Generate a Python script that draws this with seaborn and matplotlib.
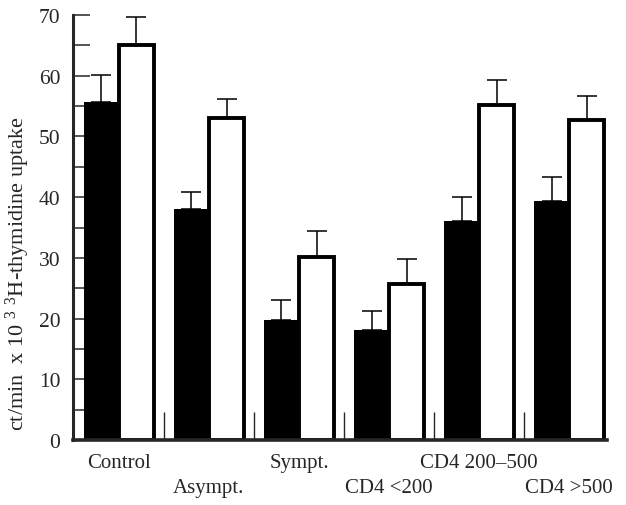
import matplotlib
matplotlib.use("Agg")
import matplotlib.pyplot as plt
import seaborn as sns
import pandas as pd
import numpy as np

groups = ["Control", "Asympt.", "Sympt.", "CD4 <200", "CD4 200\u2013500", "CD4 >500"]
black_vals = [55.7, 38.0, 19.8, 18.2, 36.1, 39.4]
black_errs = [4.4, 2.8, 3.2, 3.1, 4.0, 3.9]
white_vals = [65.1, 53.0, 30.2, 25.7, 55.2, 52.7]
white_errs = [4.6, 3.1, 4.3, 4.1, 4.1, 4.0]
conditions = ["A", "B"]

sns.set_style("ticks")
plt.rcParams["font.family"] = ["Liberation Serif", "DejaVu Serif"]
plt.rcParams["mathtext.fontset"] = "custom"
plt.rcParams["mathtext.rm"] = "Liberation Serif"
plt.rcParams["mathtext.it"] = "Liberation Serif:italic"
plt.rcParams["mathtext.default"] = "regular"

df = pd.DataFrame({
    "group": groups * 2,
    "cond": [conditions[0]] * len(groups) + [conditions[1]] * len(groups),
    "value": black_vals + white_vals,
})
errs = {conditions[0]: black_errs, conditions[1]: white_errs}

fig = plt.figure(figsize=(6.26, 5.06), dpi=100)
ax = fig.add_axes([73 / 626, (506 - 441) / 506, (607 - 73) / 626, (441 - 16) / 506])

sns.barplot(data=df, x="group", y="value", hue="cond", order=groups,
            hue_order=conditions, palette={"A": "black", "B": "white"},
            width=0.78, gap=0, errorbar=None, legend=False, ax=ax, saturation=1)

for cont, cond in zip(ax.containers, conditions):
    for patch, err in zip(cont.patches, errs[cond]):
        if cond == "B":
            patch.set_edgecolor("black")
            patch.set_linewidth(2.8)
            patch.set_zorder(2)
        else:
            patch.set_edgecolor("black")
            patch.set_linewidth(0)
            patch.set_zorder(1.5)
        xc = patch.get_x() + patch.get_width() / 2
        h = patch.get_height()
        ax.errorbar([xc], [h], yerr=[[0], [err]], fmt="none", ecolor="black",
                    elinewidth=1.1, capsize=7.3, capthick=1.1, zorder=1)

ax.set_xlim(-0.51, 5.42)
ax.set_ylim(0, 70)
ax.set_yticks(np.arange(0, 71, 10))
ax.set_yticks(np.arange(5, 70, 10), minor=True)
ax.tick_params(axis="y", which="both", direction="in", length=12, width=1.1,
               labelsize=15.5, pad=9)

ax.set_xticks(range(len(groups)))
ax.set_xticklabels([])
ax.set_xticks(np.arange(0.5, len(groups) - 1, 1.0), minor=True)
ax.tick_params(axis="x", which="major", length=0)
ax.tick_params(axis="x", which="minor", direction="in", length=20, width=1.0)

trans = ax.get_xaxis_transform()
for i, g in enumerate(groups):
    yy = -0.052 if i % 2 == 0 else -0.111
    ax.text(i, yy, g, transform=trans, ha="center", va="center", fontsize=15)

ax.spines["top"].set_visible(False)
ax.spines["right"].set_visible(False)
ax.spines["left"].set_linewidth(2.2)
ax.spines["bottom"].set_linewidth(2.6)

ax.set_xlabel("")
ax.set_ylabel("ct/min  x 10 $^{3}$ $^{3}$H-thymidine uptake", fontsize=16)
ax.yaxis.label.set_va("center")
ax.yaxis.set_label_coords(-0.103, 0.395)

fig.savefig("out.png", dpi=100)
